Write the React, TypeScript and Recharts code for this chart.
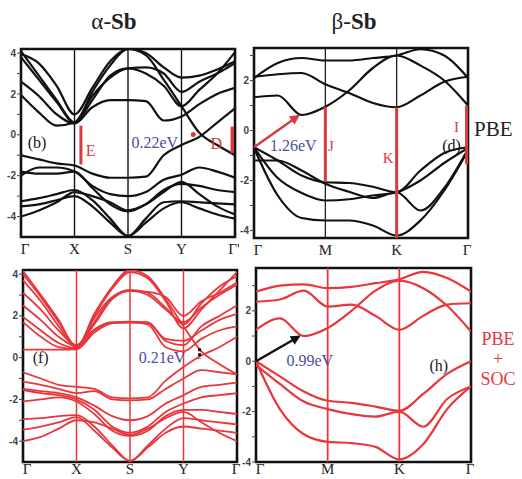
import React from 'react';
import { LineChart, Line, XAxis, YAxis, ReferenceLine, ReferenceArea, ReferenceDot } from 'recharts';

const SERIF = '"Liberation Serif", "Times New Roman", serif';
const SANS = '"Liberation Sans", Arial, sans-serif';
const RED = '#e8363c';
const ANN_RED = '#d83a3e';
const NAVY = '#4a4e9c';

// k-path sample positions
const kAlpha = [0, 0.333, 0.667, 1, 1.333, 1.667, 2, 2.333, 2.667, 3, 3.333, 3.667, 4];
const kBeta = [0, 0.333, 0.667, 1, 1.333, 1.667, 2, 2.333, 2.667, 3];

// tick labels
const alphaTopLabels = ['Γ', 'X', 'S', 'Y', "Γ'"];
const alphaBotLabels = ['Γ', 'X', 'S', 'Y', 'Γ'];
const betaLabels = ['Γ', 'M', 'K', 'Γ'];
const alphaKTicks = [0, 1, 2, 3, 4];
const betaKTicks = [0, 1, 2, 3];
const alphaETicks = [-4, -3, -2, -1, 0, 1, 2, 3, 4];
const betaETicks = [-4, -3, -2, -1, 0, 1, 2, 3];

// (b) alpha-Sb PBE bands (eV)
const bandsB = [
  [4.1, 2.9, 1.7, 0.6, 2.1, 3.4, 4.2, 3.9, 2.7, 1.4, 0.1, -0.5, -1.0],
  [3.8, 2.7, 1.6, 0.6, 1.7, 2.9, 3.25, 3.0, 2.4, 1.4, 2.2, 3.0, 4.05],
  [2.6, 1.9, 1.0, 0.55, 1.35, 1.7, 1.7, 1.65, 0.7, 0.9, 1.5, 2.0, 2.3],
  [1.95, 1.1, 0.45, 0.6, 1.9, 2.8, 3.25, 3.3, 3.0, 2.1, 2.6, 3.0, 3.5],
  [3.95, 3.5, 2.4, 1.0, 2.3, 3.6, 4.2, 4.0, 3.3, 2.8, 2.9, 3.2, 3.6],
  [-1.0, -1.2, -1.4, -1.5, -1.9, -2.1, -2.1, -2.05, -1.0, -0.5, -0.1, 0.6, 1.3],
  [-2.0, -1.6, -1.6, -1.8, -2.5, -2.9, -3.0, -2.8, -2.2, -1.95, -1.6, -1.8, -2.1],
  [-1.8, -1.9, -1.9, -1.8, -2.6, -3.4, -3.75, -3.4, -2.7, -2.4, -2.5, -2.7, -2.8],
  [-3.25, -3.1, -2.9, -2.7, -3.2, -4.1, -4.95, -4.1, -3.3, -3.25, -3.3, -3.35, -3.4],
  [-3.5, -3.4, -3.2, -3.0, -3.5, -4.3, -4.95, -4.3, -3.6, -3.3, -3.6, -3.9, -4.1],
  [-4.0, -3.7, -3.3, -2.8, -3.0, -3.3, -3.7, -3.4, -2.8, -2.3, -2.9, -3.5, -3.9],
];

// (d) beta-Sb PBE bands (eV)
const bandsD = [
  [2.1, 2.7, 2.9, 2.8, 2.8, 2.9, 3.0, 3.25, 3.0, 2.1],
  [2.15, 2.25, 2.3, 1.85, 1.5, 1.1, 0.93, 1.4, 1.95, 2.15],
  [1.33, 1.4, 0.62, 0.95, 1.6, 2.5, 3.0, 2.6, 2.0, 1.0],
  [-0.67, -1.2, -1.8, -2.07, -2.1, -2.25, -2.47, -1.6, -0.9, -0.67],
  [-1.2, -1.2, -1.6, -2.13, -2.45, -2.7, -2.47, -3.2, -2.3, -0.75],
  [-0.67, -1.9, -2.5, -2.8, -2.75, -2.6, -2.47, -2.0, -1.3, -0.7],
  [-0.7, -2.6, -3.5, -3.6, -3.6, -3.8, -4.2, -3.6, -2.4, -0.8],
];

// (f) alpha-Sb PBE+SOC bands (eV)
const bandsF = [
  [4.15, 3.0, 1.8, 0.5, 2.1, 3.4, 4.2, 3.9, 2.8, 1.5, 0.3, -0.3, -0.8],
  [4.0, 2.9, 1.7, 0.55, 2.0, 3.3, 4.1, 3.8, 2.7, 1.4, 2.3, 3.2, 4.1],
  [3.7, 2.7, 1.5, 0.5, 1.7, 2.9, 3.25, 3.1, 2.4, 1.6, 2.6, 3.4, 3.9],
  [3.1, 2.3, 1.3, 0.6, 1.6, 2.8, 3.2, 3.0, 2.3, 1.7, 2.4, 3.0, 3.5],
  [2.5, 1.8, 1.0, 0.55, 1.35, 1.7, 1.72, 1.7, 0.8, 0.6, 1.5, 2.0, 2.5],
  [1.95, 1.3, 0.7, 0.45, 1.3, 1.65, 1.68, 1.65, 0.9, 0.8, 1.3, 1.8, 2.1],
  [1.7, 1.0, 0.5, 0.4, 1.9, 2.9, 3.2, 3.15, 2.9, 2.0, 2.7, 3.1, 3.6],
  [0.38, 0.38, 0.38, 0.4, 1.2, 1.65, 1.7, 1.6, 0.5, 0.3, 0.9, 1.3, 1.5],
  [-0.7, -1.0, -1.3, -1.4, -1.5, -1.9, -1.95, -1.9, -1.1, -0.45, 0.1, 0.5, 1.0],
  [-1.15, -1.3, -1.5, -1.7, -1.6, -2.0, -2.05, -2.0, -1.5, -1.0, -0.6, -0.7, -0.8],
  [-1.5, -1.6, -1.7, -1.9, -2.3, -2.8, -3.0, -2.8, -2.2, -1.8, -1.4, -1.3, -1.2],
  [-1.55, -1.7, -1.8, -2.0, -2.5, -3.3, -3.6, -3.3, -2.6, -2.2, -1.9, -1.8, -1.7],
  [-2.1, -2.0, -1.9, -2.1, -2.7, -3.5, -3.75, -3.5, -2.8, -2.5, -2.5, -2.6, -2.7],
  [-2.95, -2.9, -2.8, -2.75, -3.3, -4.2, -4.95, -4.2, -3.4, -2.9, -3.0, -3.1, -3.2],
  [-3.45, -3.3, -3.1, -2.85, -3.5, -4.3, -4.95, -4.3, -3.6, -3.3, -3.4, -3.5, -3.6],
  [-4.0, -3.8, -3.4, -3.0, -3.1, -3.4, -3.7, -3.4, -2.9, -2.6, -3.1, -3.6, -4.0],
];

// (h) beta-Sb PBE+SOC bands (eV)
const bandsH = [
  [2.76, 3.0, 3.05, 2.9, 2.95, 3.1, 3.25, 3.55, 3.3, 2.76],
  [2.36, 2.45, 2.8, 2.17, 2.25, 1.8, 1.25, 1.8, 2.25, 2.3],
  [1.25, 1.7, 1.0, 1.32, 2.0, 2.8, 3.2, 2.9, 2.2, 1.18],
  [0.0, -0.6, -1.2, -1.57, -1.65, -1.8, -1.97, -1.3, -0.5, 0.0],
  [-0.15, -0.9, -1.6, -1.9, -2.1, -2.2, -2.0, -2.6, -1.5, -1.0],
  [0.0, -1.9, -2.9, -3.2, -3.25, -3.4, -3.9, -3.3, -1.9, -1.0],
];

function buildRows(k: number[], bands: number[][]) {
  return k.map((kv, i) => {
    const row: any = { k: kv };
    bands.forEach((b, j) => {
      row['b' + j] = b[i];
    });
    return row;
  });
}

function textDot(key: string, x: number, y: number, value: string, fill: string, fontSize = 16) {
  return (
    <ReferenceDot
      key={key}
      x={x}
      y={y}
      r={0}
      fill="none"
      stroke="none"
      ifOverflow="visible"
      label={{ value, position: 'center', fill, fontSize, fontFamily: SERIF }}
    />
  );
}

function makeXTick(labels: string[], ticks: number[], gap: number) {
  return (p: any) => {
    const v = p.payload?.value;
    const idx = ticks.indexOf(v);
    const label = labels[idx] ?? '';
    let dx = 0;
    if (idx === 0) dx = 4;
    if (idx === ticks.length - 1) dx = -1;
    return (
      <text
        x={p.x + dx}
        y={p.y + gap}
        textAnchor="middle"
        dominantBaseline="hanging"
        fontFamily={SERIF}
        fontSize={15}
        fill="#222"
      >
        {label}
      </text>
    );
  };
}

function Panel(props: any) {
  const {
    left, top, width, height, yw, k, bands, color, lw, yDomain, yTicks,
    xTicks, xLabels, xGap, vLines, vColor, vWidth, extras,
  } = props;
  const rows = buildRows(k, bands);
  const kMax = k[k.length - 1];
  return (
    <div style={{ position: 'absolute', left, top }}>
      <LineChart width={width} height={height} data={rows} margin={{ top: 4, right: 4, left: 0, bottom: 0 }}>
        <XAxis
          dataKey="k"
          type="number"
          domain={[0, kMax]}
          ticks={xTicks}
          interval={0}
          allowDataOverflow
          axisLine={false}
          tickLine={false}
          tickSize={0}
          tickMargin={0}
          height={22}
          tick={makeXTick(xLabels, xTicks, xGap)}
        />
        <YAxis
          type="number"
          domain={yDomain}
          ticks={yTicks}
          interval={0}
          allowDataOverflow
          width={yw}
          axisLine={false}
          tickSize={4}
          tickMargin={1}
          tickLine={{ stroke: '#444', strokeWidth: 1 }}
          tickFormatter={(v: number) => (v % 2 === 0 ? String(v) : '')}
          tick={{ fill: '#444', fontSize: 10, fontWeight: 'bold', fontFamily: SANS }}
        />
        {vLines.map((x: number) => (
          <ReferenceLine key={'v' + x} x={x} stroke={vColor} strokeWidth={vWidth} />
        ))}
        {bands.map((_: number[], j: number) => (
          <Line
            key={'b' + j}
            dataKey={'b' + j}
            type="monotone"
            stroke={color}
            strokeWidth={lw}
            dot={false}
            activeDot={false}
            isAnimationActive={false}
          />
        ))}
        <ReferenceArea
          x1={0}
          x2={kMax}
          y1={yDomain[0]}
          y2={yDomain[1]}
          fill="none"
          fillOpacity={0}
          stroke="#111"
          strokeWidth={2.6}
          ifOverflow="visible"
        />
        {extras}
      </LineChart>
    </div>
  );
}

export default function App() {
  const extrasB = [
    <ReferenceLine key="E" segment={[{ x: 1.12, y: 0.45 }, { x: 1.12, y: -1.45 }]} stroke={ANN_RED} strokeWidth={3} />,
    <ReferenceLine key="D" segment={[{ x: 3.95, y: 0.4 }, { x: 3.95, y: -0.9 }]} stroke={ANN_RED} strokeWidth={3.5} />,
    <ReferenceDot key="gapb" x={3.22} y={0.02} r={2.5} fill={ANN_RED} stroke="none" />,
    textDot('lb', 0.3, -0.35, '(b)', '#111'),
    textDot('lE', 1.3, -0.75, 'E', ANN_RED),
    textDot('lg', 2.5, -0.35, '0.22eV', NAVY),
    textDot('lD', 3.65, -0.4, 'D', ANN_RED),
  ];
  const extrasD = [
    <ReferenceLine key="arr" segment={[{ x: 0, y: -0.67 }, { x: 0.62, y: 0.58 }]} stroke={ANN_RED} strokeWidth={2.5} markerEnd="url(#arrRed)" />,
    <ReferenceLine key="J" segment={[{ x: 1, y: 0.95 }, { x: 1, y: -2.07 }]} stroke={ANN_RED} strokeWidth={3} />,
    <ReferenceLine key="K" segment={[{ x: 2, y: 0.93 }, { x: 2, y: -4.3 }]} stroke={ANN_RED} strokeWidth={3} />,
    <ReferenceLine key="I" segment={[{ x: 2.98, y: 1.0 }, { x: 2.98, y: -1.35 }]} stroke={ANN_RED} strokeWidth={3} />,
    textDot('lg', 0.55, -0.6, '1.26eV', NAVY),
    textDot('lJ', 1.08, -0.6, 'J', ANN_RED, 15),
    textDot('lK', 1.88, -1.1, 'K', ANN_RED, 15),
    textDot('lI', 2.84, 0.15, 'I', ANN_RED, 15),
    textDot('ld', 2.77, -0.6, '(d)', '#111'),
  ];
  const extrasF = [
    <ReferenceLine key="gapf" segment={[{ x: 3.3, y: 0.45 }, { x: 3.3, y: -0.05 }]} stroke="#111" strokeWidth={3} strokeDasharray="3 2" />,
    textDot('lf', 0.33, 0, '(f)', '#222'),
    textDot('lg', 2.6, 0, '0.21eV', NAVY),
  ];
  const extrasH = [
    <ReferenceLine key="arr" segment={[{ x: 0, y: 0 }, { x: 0.6, y: 0.98 }]} stroke="#111" strokeWidth={2.5} markerEnd="url(#arrBlk)" />,
    textDot('lg', 0.75, 0.05, '0.99eV', NAVY),
    textDot('lh', 2.55, -0.15, '(h)', '#222'),
  ];

  return (
    <div style={{ position: 'absolute', left: 0, top: 0, width: 522, height: 479, background: '#fff', overflow: 'hidden', fontFamily: SERIF }}>
      <svg width={0} height={0} style={{ position: 'absolute' }}>
        <defs>
          <marker id="arrRed" viewBox="0 0 10 10" refX="8" refY="5" markerWidth="4" markerHeight="4" orient="auto">
            <path d="M0,0 L10,5 L0,10 z" fill={ANN_RED} />
          </marker>
          <marker id="arrBlk" viewBox="0 0 10 10" refX="8" refY="5" markerWidth="4" markerHeight="4" orient="auto">
            <path d="M0,0 L10,5 L0,10 z" fill="#111" />
          </marker>
        </defs>
      </svg>

      <div style={{ position: 'absolute', left: 0, width: 228, top: 9, textAlign: 'center', fontSize: 23, color: '#222', fontFamily: SERIF }}>
        α-<b>Sb</b>
      </div>
      <div style={{ position: 'absolute', left: 240, width: 228, top: 9, textAlign: 'center', fontSize: 23, color: '#222', fontFamily: SERIF }}>
        β-<b>Sb</b>
      </div>

      <Panel
        left={0} top={45} width={239} height={214} yw={21}
        k={kAlpha} bands={bandsB} color="#111" lw={2.2}
        yDomain={[-5, 4.2]} yTicks={alphaETicks}
        xTicks={alphaKTicks} xLabels={alphaTopLabels} xGap={7}
        vLines={[1, 2, 3]} vColor="#111" vWidth={1.4}
        extras={extrasB}
      />
      <Panel
        left={238} top={44} width={234} height={216} yw={16}
        k={kBeta} bands={bandsD} color="#111" lw={2.2}
        yDomain={[-4.3, 3.3]} yTicks={betaETicks}
        xTicks={betaKTicks} xLabels={betaLabels} xGap={7}
        vLines={[1, 2]} vColor="#111" vWidth={1.2}
        extras={extrasD}
      />
      <Panel
        left={0} top={266} width={241} height={218} yw={23}
        k={kAlpha} bands={bandsF} color={RED} lw={1.8}
        yDomain={[-5, 4.2]} yTicks={alphaETicks}
        xTicks={alphaKTicks} xLabels={alphaBotLabels} xGap={2}
        vLines={[1, 2, 3]} vColor={RED} vWidth={1.5}
        extras={extrasF}
      />
      <Panel
        left={240} top={264} width={235} height={220} yw={16}
        k={kBeta} bands={bandsH} color={RED} lw={2.2}
        yDomain={[-4, 3.7]} yTicks={betaETicks}
        xTicks={betaKTicks} xLabels={betaLabels} xGap={2}
        vLines={[1, 2]} vColor={RED} vWidth={1.8}
        extras={extrasH}
      />

      <div style={{ position: 'absolute', left: 474, top: 117, fontSize: 21, color: '#222', fontFamily: SERIF }}>PBE</div>
      <div style={{ position: 'absolute', left: 476, top: 329, width: 44, textAlign: 'center', fontSize: 18, lineHeight: '20px', color: RED, fontFamily: SERIF }}>PBE</div>
      <div style={{ position: 'absolute', left: 476, top: 349, width: 44, textAlign: 'center', fontSize: 18, lineHeight: '20px', color: RED, fontFamily: SERIF }}>+</div>
      <div style={{ position: 'absolute', left: 476, top: 369, width: 44, textAlign: 'center', fontSize: 18, lineHeight: '20px', color: RED, fontFamily: SERIF }}>SOC</div>
    </div>
  );
}
